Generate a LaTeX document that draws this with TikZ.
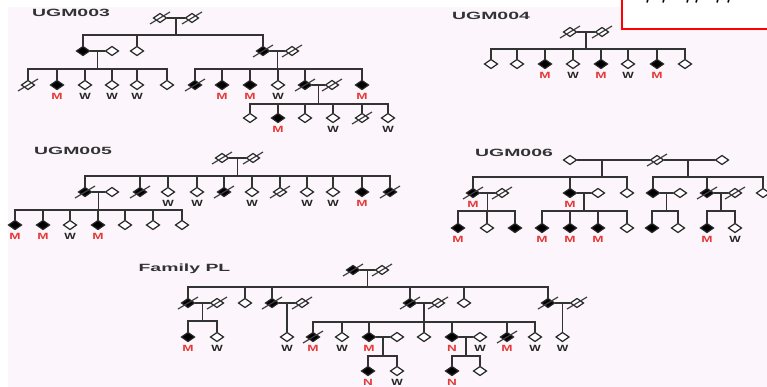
\documentclass[tikz,border=0pt]{standalone}
\usepackage{fontspec}
\usepackage{graphicx}
\newfontfamily\hv{Liberation Sans}
\usetikzlibrary{shapes.geometric,calc}
\definecolor{bgc}{HTML}{FCF6FC}
\definecolor{mred}{HTML}{E53935}
\newcommand\stretchx[2]{\scalebox{#1}[1]{#2}}
\tikzset{
  wire/.style={draw=black!80, line width=1.6pt, line cap=rect},
  per/.style={diamond, draw=black!85, line width=1.2pt, minimum width=13.5pt,
    minimum height=9.5pt, inner sep=0pt},
  un/.style={per, fill=white},
  af/.style={per, fill=black},
  dd/.style={append after command={([shift={(-10,6)}]\tikzlastnode.center)
    edge[draw=black!75, line width=1.2pt] ([shift={(10,-6)}]\tikzlastnode.center)}},
  lab/.style={inner sep=0pt, text height=6.3pt, text depth=0pt,
    font=\hv\bfseries\fontsize{9}{10}\selectfont},
  mM/.style={label={[lab,text=mred,label distance=3pt]below:\stretchx{1.5}{M}}},
  mN/.style={label={[lab,text=mred,label distance=3pt]below:\stretchx{1.5}{N}}},
  mW/.style={label={[lab,text=black!85,label distance=3pt]below:\stretchx{1.35}{W}}},
  ttl/.style={inner sep=0pt, text=black!80, font=\hv\bfseries\fontsize{10.5}{12}\selectfont}
}
% couple line and the point its sibship hangs from
\newcommand\mate[3]{%
  \draw[wire] (#1) -- (#2);
  \coordinate (#3) at ($(#1)!0.5!(#2)$);}
% sibship: drop from parent point, horizontal bar at y, drops to children
\newcommand\sibs[5]{%
  \coordinate (sy) at (0,#2);
  \draw[wire] (#1) -- (#1 |- sy);
  \draw[wire] (#3 |- sy) -- (#4 |- sy);
  \foreach \c in {#5}{\draw[wire] (\c) -- (\c |- sy);}}
\begin{document}
\begin{tikzpicture}[x=1pt,y=-1pt]
\useasboundingbox (0,0) rectangle (767,387);
\begin{scope}
\clip (0,0) rectangle (767,387);
\fill[white] (0,0) rectangle (767,387);
\fill[bgc] (8,7) rectangle (767,387);
% boxed note in the corner
\draw[red, line width=2pt, fill=white] (622,-5) rectangle (780,29);
\foreach \x in {648,664,688,697,718,729}{\draw[line width=1.6pt] (\x,-1) -- (\x-1,2.5);}

% ---------------- UGM003 ----------------
\node[ttl] (t3) at (71,13) {\stretchx{1.85}{UGM003}};
\node[un,dd] (a1) at (160,18) {};
\node[un,dd] (a2) at (192,18) {};
\node[af] (b1) at (83,51) {};
\node[un] (b2) at (112,51) {};
\node[un] (b3) at (137,51) {};
\node[af,dd] (b4) at (263,51) {};
\node[un,dd] (b5) at (292,51) {};
\node[un,dd] (c1) at (28,85) {};
\node[af,mM] (c2) at (57,85) {};
\node[un,mW] (c3) at (85,85) {};
\node[un,mW] (c4) at (112,85) {};
\node[un,mW] (c5) at (137,85) {};
\node[un] (c6) at (167,85) {};
\node[af,dd] (d1) at (195,85) {};
\node[af,mM] (d2) at (222,85) {};
\node[af,mM] (d3) at (250,85) {};
\node[un,mW] (d4) at (278,85) {};
\node[af,dd] (d5) at (305,85) {};
\node[un,dd] (d6) at (332,85) {};
\node[af,mM] (d7) at (362,85) {};
\node[un] (e1) at (250,118) {};
\node[af,mM] (e2) at (278,118) {};
\node[un] (e3) at (305,118) {};
\node[un,mW] (e4) at (333,118) {};
\node[un,dd] (e5) at (362,118) {};
\node[un,mW] (e6) at (388,118) {};
\mate{a1}{a2}{ma}
\sibs{ma}{35}{b1}{b4}{b1,b3,b4}
\mate{b1}{b2}{mb1}
\sibs{mb1}{69}{c1}{c6}{c1,c2,c3,c4,c5,c6}
\mate{b4}{b5}{mb2}
\sibs{mb2}{69}{d1}{d7}{d1,d2,d3,d4,d5,d7}
\mate{d5}{d6}{md}
\sibs{md}{104}{e1}{e6}{e1,e2,e3,e4,e5,e6}

% ---------------- UGM004 ----------------
\node[ttl] (t4) at (491,16) {\stretchx{1.85}{UGM004}};
\node[un,dd] (f1) at (570,32) {};
\node[un,dd] (f2) at (602,32) {};
\node[un] (g1) at (491,64) {};
\node[un] (g2) at (517,64) {};
\node[af,mM] (g3) at (545,64) {};
\node[un,mW] (g4) at (573,64) {};
\node[af,mM] (g5) at (601,64) {};
\node[un,mW] (g6) at (628,64) {};
\node[af,mM] (g7) at (657,64) {};
\node[un] (g8) at (685,64) {};
\mate{f1}{f2}{mf}
\sibs{mf}{49}{g1}{g8}{g1,g2,g3,g4,g5,g6,g7,g8}

% ---------------- UGM005 ----------------
\node[ttl] (t5) at (73,151) {\stretchx{1.85}{UGM005}};
\node[un,dd] (h1) at (222,158) {};
\node[un,dd] (h2) at (253,158) {};
\node[af,dd] (i1) at (85,192) {};
\node[un] (i2) at (112,192) {};
\node[af,dd] (i3) at (140,192) {};
\node[un,mW] (i4) at (168,192) {};
\node[un,mW] (i5) at (197,192) {};
\node[af,dd] (i6) at (224,192) {};
\node[un,mW] (i7) at (252,192) {};
\node[un,dd] (i8) at (280,192) {};
\node[un,mW] (i9) at (307,192) {};
\node[un,mW] (i10) at (333,192) {};
\node[af,mM] (i11) at (362,192) {};
\node[af,dd] (i12) at (390,192) {};
\node[af,mM] (j1) at (15,225) {};
\node[af,mM] (j2) at (43,225) {};
\node[un,mW] (j3) at (70,225) {};
\node[af,mM] (j4) at (98,225) {};
\node[un] (j5) at (125,225) {};
\node[un] (j6) at (153,225) {};
\node[un] (j7) at (182,225) {};
\mate{h1}{h2}{mh}
\sibs{mh}{176}{i1}{i12}{i1,i3,i4,i5,i6,i7,i8,i9,i10,i11,i12}
\mate{i1}{i2}{mi}
\sibs{mi}{210}{j1}{j7}{j1,j2,j3,j4,j5,j6,j7}

% ---------------- UGM006 ----------------
\node[ttl] (t6) at (514,153) {\stretchx{1.85}{UGM006}};
\node[un] (k1) at (570,160) {};
\node[un,dd] (k2) at (657,160) {};
\node[un] (k3) at (722,160) {};
\node[af,dd,mM] (l1) at (473,193) {};
\node[un,dd] (l2) at (502,193) {};
\node[af,mM] (l3) at (570,193) {};
\node[un] (l4) at (598,193) {};
\node[un] (l5) at (627,193) {};
\node[af] (l6) at (653,193) {};
\node[un] (l7) at (680,193) {};
\node[af,dd] (l8) at (707,193) {};
\node[un,dd] (l9) at (735,193) {};
\node[un] (l10) at (763,193) {};
\node[af,mM] (m1) at (458,228) {};
\node[un] (m2) at (487,228) {};
\node[af] (m3) at (515,228) {};
\node[af,mM] (m4) at (542,228) {};
\node[af,mM] (m5) at (570,228) {};
\node[af,mM] (m6) at (598,228) {};
\node[un] (m7) at (627,228) {};
\node[af] (m8) at (652,228) {};
\node[un] (m9) at (678,228) {};
\node[af,mM] (m10) at (707,228) {};
\node[un,mW] (m11) at (735,228) {};
\draw[wire] (k1) -- (k2) -- (k3);
\coordinate (mk1) at ($(k1)!0.37!(k2)$);
\coordinate (mk2) at ($(k2)!0.48!(k3)$);
\sibs{mk1}{177}{l1}{l5}{l1,l3,l5}
\sibs{mk2}{177}{l6}{l10}{l6,l8,l10}
\mate{l1}{l2}{ml1}
\sibs{ml1}{211}{m1}{m3}{m1,m2,m3}
\mate{l3}{l4}{ml2}
\sibs{ml2}{211}{m4}{m7}{m4,m5,m6,m7}
\mate{l6}{l7}{ml3}
\sibs{ml3}{211}{m8}{m9}{m8,m9}
\mate{l8}{l9}{ml4}
\sibs{ml4}{211}{m10}{m11}{m10,m11}

% ---------------- Family PL ----------------
\node[ttl] (tp) at (184.5,269) {\stretchx{1.85}{Family PL}};
\node[af,dd] (n1) at (353,270) {};
\node[un,dd] (n2) at (382,270) {};
\node[af,dd] (o1) at (188,303) {};
\node[un,dd] (o2) at (217,303) {};
\node[un] (o3) at (245,303) {};
\node[af,dd] (o4) at (272,303) {};
\node[un,dd] (o5) at (302,303) {};
\node[af,dd] (o6) at (410,303) {};
\node[un,dd] (o7) at (438,303) {};
\node[un] (o8) at (464,303) {};
\node[af,dd] (o9) at (548,303) {};
\node[un,dd] (o10) at (577,303) {};
\node[af,mM] (p1) at (188,337) {};
\node[un,mW] (p2) at (217,337) {};
\node[un,mW] (p3) at (287,337) {};
\node[un,mW] (p4) at (562.5,337) {};
\node[af,dd,mM] (q1) at (313,337) {};
\node[un,mW] (q2) at (342,337) {};
\node[af,mM] (q3) at (369,337) {};
\node[un] (q4) at (397,337) {};
\node[un] (q5) at (424,337) {};
\node[af,mN] (q6) at (452,337) {};
\node[un,mW] (q7) at (480,337) {};
\node[af,dd,mM] (q8) at (507,337) {};
\node[un,mW] (q9) at (535,337) {};
\node[af,mN] (r1) at (368,371) {};
\node[un,mW] (r2) at (397,371) {};
\node[af,mN] (r3) at (452,371) {};
\node[un] (r4) at (480,371) {};
\mate{n1}{n2}{mn}
\sibs{mn}{287}{o1}{o9}{o1,o3,o4,o6,o8,o9}
\mate{o1}{o2}{mo1}
\sibs{mo1}{321}{p1}{p2}{p1,p2}
\mate{o4}{o5}{mo2}
\draw[wire] (mo2) -- (p3);
\mate{o6}{o7}{mo3}
\sibs{mo3}{322}{q1}{q9}{q1,q2,q3,q5,q6,q8,q9}
\mate{o9}{o10}{mo4}
\draw[wire] (mo4) -- (p4);
\mate{q3}{q4}{mq1}
\sibs{mq1}{356}{r1}{r2}{r1,r2}
\mate{q6}{q7}{mq2}
\sibs{mq2}{356}{r3}{r4}{r3,r4}
\end{scope}
\end{tikzpicture}
\end{document}
